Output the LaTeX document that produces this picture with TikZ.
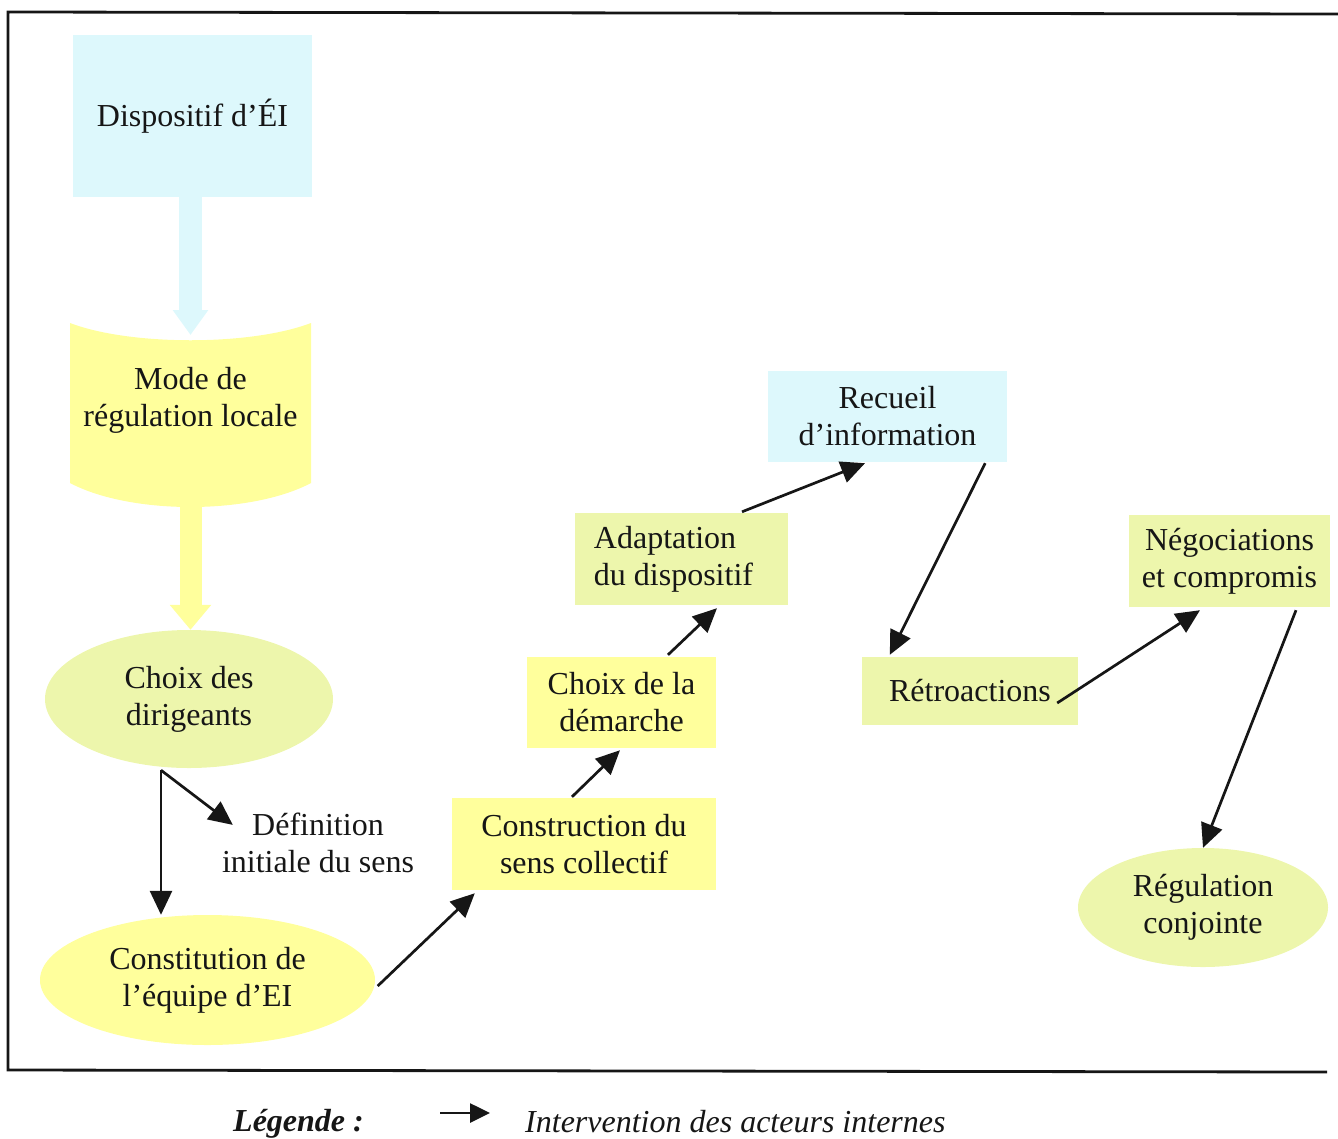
\documentclass[tikz,border=0pt]{standalone}
\usepackage{fontspec}
\setmainfont{Liberation Serif}
\usetikzlibrary{arrows.meta,shapes.geometric,calc,backgrounds}

\definecolor{cyanfill}{HTML}{DDF8FC}
\definecolor{yelfill}{HTML}{FFFF9C}
\definecolor{limefill}{HTML}{EDF6AC}
\definecolor{inkcol}{HTML}{161616}

\begin{document}
\begin{tikzpicture}[x=1pt,y=-1pt,
  every node/.style={font=\fontsize{32}{37}\selectfont, text=inkcol},
  boxnode/.style={rectangle, inner sep=0pt, align=center},
  ovalnode/.style={ellipse, inner sep=0pt, align=center},
  arr/.style={draw=inkcol, line width=2.7pt, -{Triangle[length=24pt,width=22pt]}},
  fatarrow/.style={line width=22pt},
  frameline/.style={line width=2.8pt, draw=inkcol}
]
\useasboundingbox (0,0) rectangle (1338,1138);

% outer frame (open on the right)
\draw[frameline] (1338,14) -- (8,12) -- (8,1070) -- (1327,1072);

% left column
\node[boxnode, fill=cyanfill, minimum width=239pt, minimum height=162pt] (disp) at (192.5,116) {Dispositif d’ÉI};

\node[align=center, inner sep=0pt] (mode) at (190.5,400) {Mode de\\régulation locale};
\begin{scope}[on background layer]
  \fill[yelfill] ($(mode)+(-120.5,-77)$) .. controls ($(mode)+(-60,-54)$) and ($(mode)+(60,-54)$) .. ($(mode)+(120.5,-77)$)
    -- ($(mode)+(120.5,83)$) .. controls ($(mode)+(60,115)$) and ($(mode)+(-60,115)$) .. ($(mode)+(-120.5,83)$) -- cycle;
\end{scope}

\node[ovalnode, fill=limefill, minimum width=288pt, minimum height=138pt] (dirig) at (189,699) {Choix des\\dirigeants};

\node[align=center, inner sep=0pt] (defin) at (318,843) {Définition\\initiale du sens};

\node[ovalnode, fill=yelfill, minimum width=335pt, minimum height=130pt] (constit) at (207.5,980) {Constitution de\\l’équipe d’EI};

% broad flow arrows
\draw[fatarrow, draw=cyanfill, line width=23pt, -{Triangle[length=25pt,width=34pt]}] (disp.south -| mode) -- ($(mode)+(0,-65)$);
\draw[fatarrow, draw=yelfill, -{Triangle[length=25pt,width=40pt]}] ($(mode)+(0,100)$) -- (dirig.north -| mode);

% middle and right steps
\node[boxnode, fill=yelfill, minimum width=264pt, minimum height=92pt] (constr) at (584,844) {Construction du\\sens collectif};
\node[boxnode, fill=yelfill, minimum width=189pt, minimum height=91pt] (demar) at (621.5,702.5) {Choix de la\\démarche};
\node[boxnode, fill=limefill, minimum width=213pt, minimum height=92pt, align=left] (adapt) at (681.5,559) {Adaptation\\du dispositif\hspace*{16pt}};
\node[boxnode, fill=cyanfill, minimum width=239pt, minimum height=91pt] (recueil) at (887.5,416.5) {Recueil\\d’information};
\node[boxnode, fill=limefill, minimum width=216pt, minimum height=68pt] (retro) at (970,691) {Rétroactions};
\node[boxnode, fill=limefill, minimum width=201pt, minimum height=92pt] (nego) at (1229.5,561) {Négociations\\et compromis};
\node[ovalnode, fill=limefill, minimum width=250pt, minimum height=119pt] (regul) at (1203,907.5) {Régulation\\conjointe};

% actor interventions
\coordinate (fork) at ($(dirig.south)+(-28,2)$);
\draw[arr] (fork) -- (fork |- constit.north);
\draw[arr] (fork) -- ($(defin.north west)+(11,12)$);
\draw[arr] ($(constit.east)+(2.5,6)$) -- ($(constr.south west)+(23,3)$);
\draw[arr] ($(constr.north)+(-12,-1)$) -- ($(demar.south)+(-1.5,2)$);
\draw[arr] ($(demar.north)+(46.5,-2)$) -- ($(adapt.south)+(35.5,3)$);
\draw[arr] ($(adapt.north)+(60.5,-1)$) -- ($(recueil.south)+(-22.5,1)$);
\draw[arr] ($(recueil.south east)+(-22,1)$) -- ($(retro.north west)+(28,-2)$);
\draw[arr] ($(retro.east)+(-21,12)$) -- ($(nego.south)+(-29.5,3)$);
\draw[arr] ($(nego.south)+(66.5,3)$) -- (regul.north);

% legend
\node[font=\fontsize{32}{37}\selectfont\bfseries\itshape, anchor=base west, inner sep=0pt] (legtitle) at (233,1131) {Légende :};
\node[font=\fontsize{32}{37}\selectfont\itshape, anchor=base west, inner sep=0pt] (legtext) at (525,1132) {Intervention des acteurs internes};
\coordinate (legA) at ($(legtitle.base east)+(76,-18)$);
\coordinate (legB) at ($(legtext.base west)+(-35,-19)$);
\draw[arr, -{Triangle[length=20pt,width=19pt]}] (legA) -- (legB);
\end{tikzpicture}
\end{document}
